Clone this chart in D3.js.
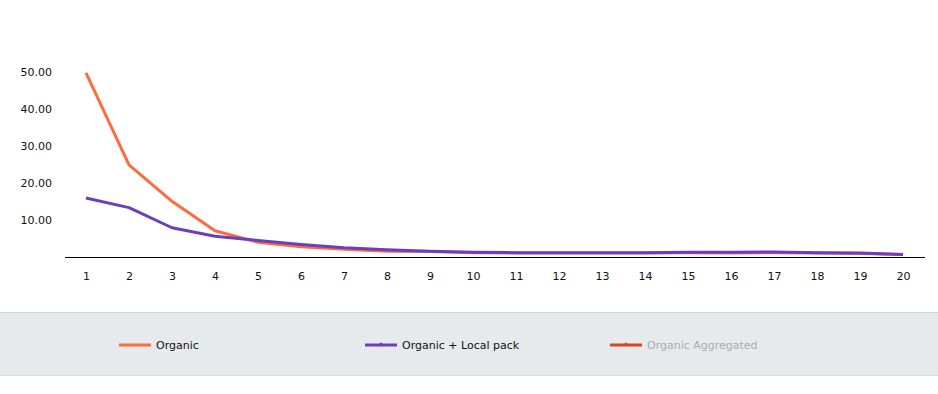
<!DOCTYPE html>
<html><head><meta charset="utf-8">
<script src="https://cdn.jsdelivr.net/npm/d3@7"></script>
<style>
html,body{margin:0;padding:0;background:#fff;}
svg{display:block;font-family:"DejaVu Sans",Verdana,sans-serif;}
</style></head>
<body>
<svg id="c" width="938" height="394"></svg>
<script>
const positions = d3.range(1, 21);
const organic = [49.6, 24.9, 15.1, 7.2, 4.1, 2.9, 2.2, 1.7, 1.6, 1.3, 1.2, 1.2, 1.2, 1.2, 1.3, 1.2, 1.3, 1.2, 1.1, 0.8];
const organicLocal = [16.0, 13.4, 8.0, 5.7, 4.6, 3.5, 2.6, 2.1, 1.7, 1.4, 1.3, 1.3, 1.3, 1.3, 1.4, 1.4, 1.5, 1.3, 1.2, 0.8];
const yTicks = [10, 20, 30, 40, 50];
const seriesNames = ["Organic", "Organic + Local pack", "Organic Aggregated"];
const seriesColors = ["#fd6b3e", "#6b3ec0", "#d8451e"];
const seriesHidden = [false, false, true];

const svg = d3.select("#c");
const x = d3.scaleLinear().domain([1, 20]).range([86, 903]);
const y = d3.scaleLinear().domain([0, 50]).range([257.5, 71.5]);

// y tick labels
const yAxis = d3.axisLeft(y).tickValues(yTicks).tickFormat(d3.format(".2f")).tickSize(0).tickPadding(0);
const gy = svg.append("g").attr("transform", "translate(52,0)").call(yAxis);
gy.select(".domain").remove();
gy.selectAll("text").attr("font-size", 11).attr("fill", "#111").attr("font-family", "DejaVu Sans");

// x axis
const xAxis = d3.axisBottom(x).tickValues(positions).tickFormat(d3.format("d")).tickSize(0).tickPadding(15);
const gx = svg.append("g").attr("transform", "translate(0,257.5)").call(xAxis);
gx.select(".domain").remove();
gx.selectAll("text").attr("font-size", 11).attr("fill", "#111").attr("font-family", "DejaVu Sans");
svg.append("line").attr("x1", 65).attr("x2", 925).attr("y1", 257.5).attr("y2", 257.5)
  .attr("stroke", "#000").attr("stroke-width", 1.2);

// lines
const line = d3.line().x((d, i) => x(positions[i])).y(d => y(d));
[organic, organicLocal].forEach((data, k) => {
  svg.append("path").datum(data).attr("d", line)
    .attr("fill", "none").attr("stroke", seriesColors[k]).attr("stroke-width", 3)
    .attr("stroke-linejoin", "round");
});

// legend band
svg.append("rect").attr("x", 0).attr("y", 312).attr("width", 938).attr("height", 64).attr("fill", "#e7eaed");
svg.append("line").attr("x1", 0).attr("x2", 938).attr("y1", 312.5).attr("y2", 312.5).attr("stroke", "#cfd1d3");
svg.append("line").attr("x1", 0).attr("x2", 938).attr("y1", 375.5).attr("y2", 375.5).attr("stroke", "#dcdee1");

const legX = [119, 365, 610];
seriesNames.forEach((name, i) => {
  const g = svg.append("g").attr("transform", `translate(${legX[i]},345)`);
  g.append("line").attr("x1", 0).attr("x2", 32).attr("y1", 0).attr("y2", 0)
    .attr("stroke", seriesColors[i]).attr("stroke-width", 3);
  if (i > 0) g.append("circle").attr("cx", 16).attr("cy", -1).attr("r", 1.5).attr("fill", seriesColors[i]);
  g.append("text").attr("x", 37).attr("y", 0).attr("dy", "0.35em")
    .attr("font-size", 11).attr("fill", seriesHidden[i] ? "#aaaaaa" : "#111").text(name);
});
</script>
</body></html>
